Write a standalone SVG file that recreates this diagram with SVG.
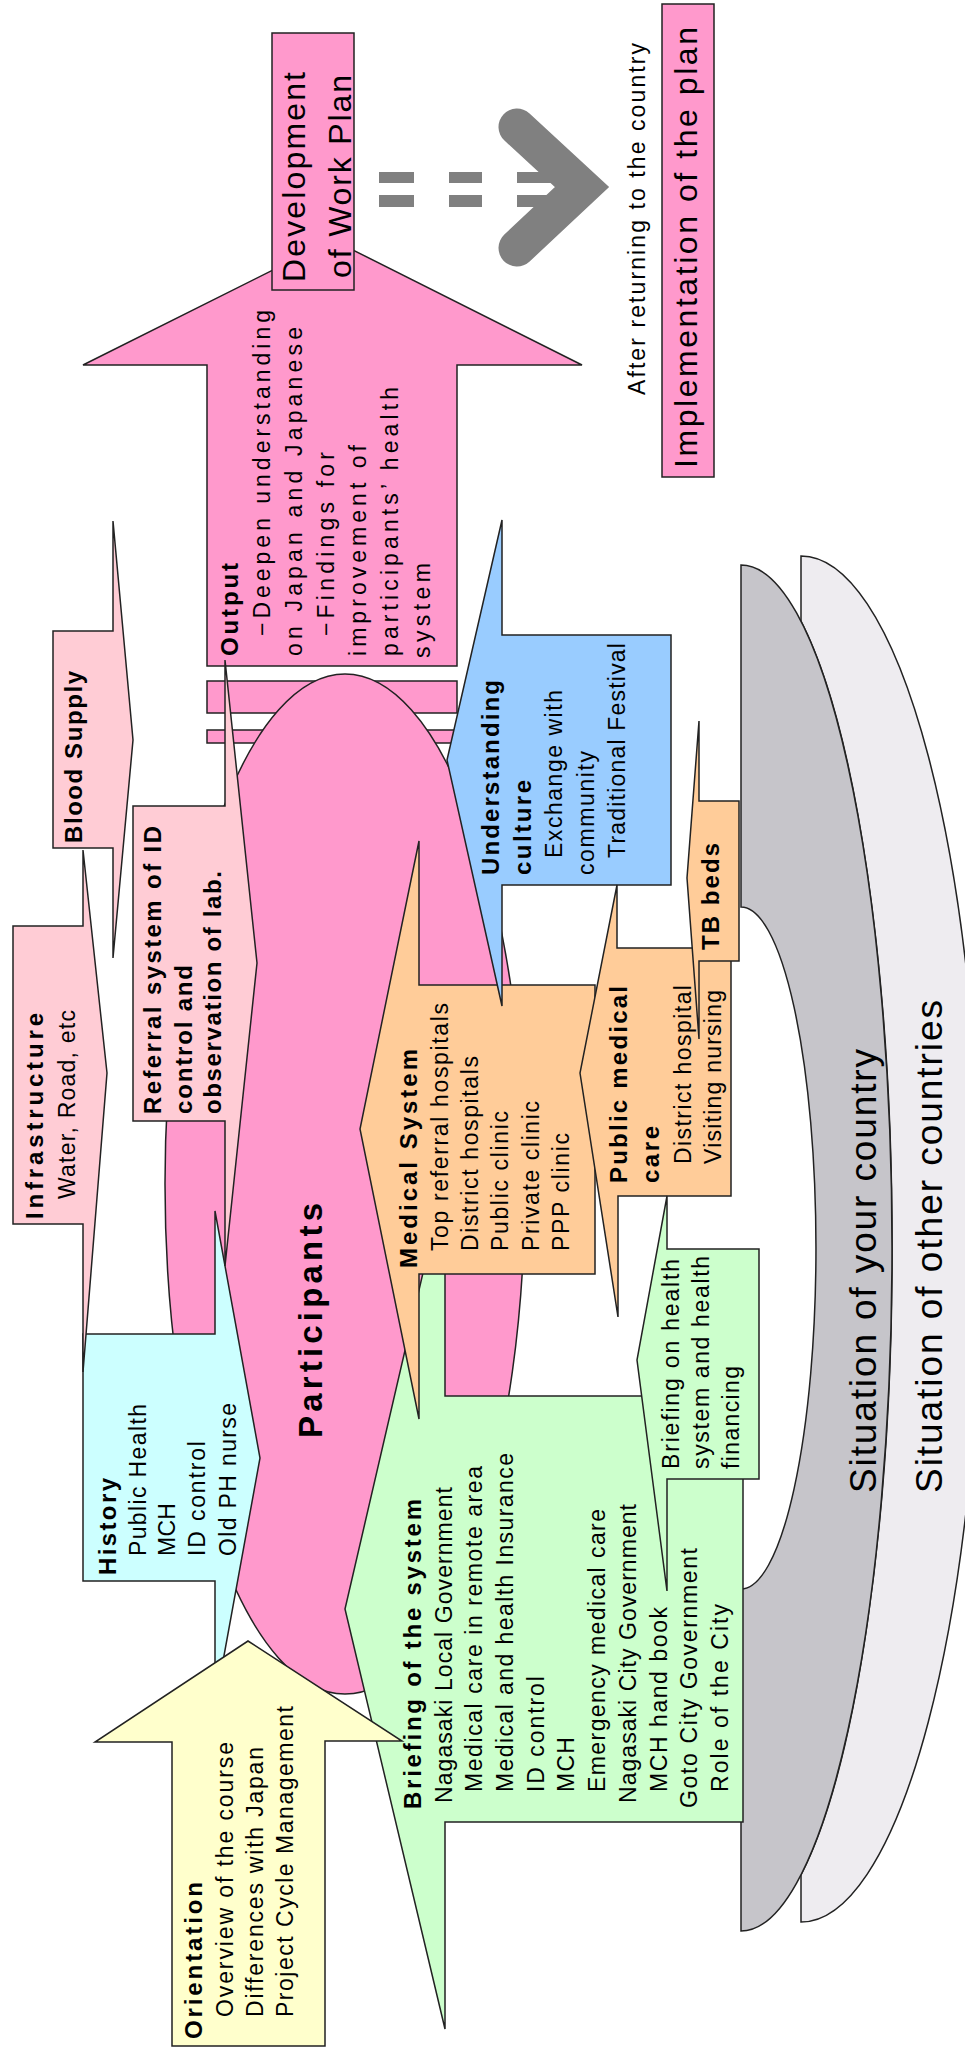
<svg xmlns="http://www.w3.org/2000/svg" width="965" height="2051" viewBox="0 0 965 2051">
<style>
.s{stroke:#222;stroke-width:1.5;stroke-linejoin:miter}
.pk{fill:#ff99cc}.pp{fill:#ffccd5}.cy{fill:#ccffff}.or{fill:#ffcc99}.bl{fill:#99ccff}.gr{fill:#ccffcc}.yl{fill:#ffffcc}
.t{font-family:"Liberation Sans",Arial,sans-serif;font-size:23px;fill:#000}
.b{font-weight:bold;font-size:24px}
.big{font-size:32px}
.sit{font-size:37px}
.part{font-weight:bold;font-size:33px}
.out{font-weight:bold;font-size:24px}
</style>
<rect width="965" height="2051" fill="#fff"/>

<g id="other-countries">
<path class="s" fill="#eeecf0" stroke-width="1.2" d="M801,556 A180,683 0 0 1 801,1922 L801,1875 A151,683 0 0 0 801,621 Z"/>
<text class="t sit" transform="translate(942,1493) rotate(-90)" textLength="493" lengthAdjust="spacing">Situation of other countries</text>
</g>
<g id="your-country">
<path class="s" fill="#c6c5ca" stroke-width="1.2" d="M741,565 A151,683 0 0 1 741,1931 L741,1589 A75,341 0 0 0 741,907 Z"/>
<text class="t sit" transform="translate(876,1493) rotate(-90)" textLength="444" lengthAdjust="spacing">Situation of your country</text>
</g>

<g id="output">
<rect class="s pk" x="207" y="681" width="250" height="32"/>
<rect class="s pk" x="207" y="730" width="250" height="13"/>
<polygon class="s pk" points="207,666 207,365 83,365 333,240 582,365 457,365 457,666"/>
<text class="t out" transform="translate(238,656) rotate(-90)" textLength="93" lengthAdjust="spacing">Output</text>
<text class="t" transform="translate(270,636) rotate(-90)" textLength="326" lengthAdjust="spacing">−Deepen understanding</text>
<text class="t" transform="translate(302,656) rotate(-90)" textLength="329" lengthAdjust="spacing">on Japan and Japanese</text>
<text class="t" transform="translate(334,636) rotate(-90)" textLength="184" lengthAdjust="spacing">−Findings for</text>
<text class="t" transform="translate(366,656) rotate(-90)" textLength="211" lengthAdjust="spacing">improvement of</text>
<text class="t" transform="translate(398,656) rotate(-90)" textLength="269" lengthAdjust="spacing">participants’ health</text>
<text class="t" transform="translate(430,658) rotate(-90)" textLength="95" lengthAdjust="spacing">system</text>
</g>

<g id="work-plan">
<rect class="s pk" x="272" y="33" width="82" height="257"/>
<text class="t big" transform="translate(305,282) rotate(-90)" textLength="210" lengthAdjust="spacing">Development</text>
<text class="t big" transform="translate(351,278) rotate(-90)" textLength="203" lengthAdjust="spacing">of Work Plan</text>
</g>

<g id="connectors">
<g fill="#808080">
<rect x="379" y="172" width="35" height="11"/>
<rect x="379" y="195" width="35" height="12"/>
<rect x="449" y="172" width="33" height="11"/>
<rect x="449" y="195" width="33" height="12"/>
<rect x="517" y="172" width="40" height="11"/>
<rect x="517" y="195" width="40" height="12"/>
</g>
<polyline points="517,127 582,187 517,248" fill="none" stroke="#808080" stroke-width="37" stroke-linecap="round" stroke-linejoin="miter"/>
</g>

<g id="after-returning">
<text class="t" transform="translate(645,395) rotate(-90)" textLength="352" lengthAdjust="spacing">After returning to the country</text>
</g>
<g id="implementation">
<rect class="s pk" x="662" y="4" width="52" height="473"/>
<text class="t big" transform="translate(697,468) rotate(-90)" textLength="441" lengthAdjust="spacing">Implementation of the plan</text>
</g>

<g id="participants">
<ellipse class="s pk" cx="345" cy="1184" rx="180" ry="510"/>
<text class="t part" transform="translate(322,1438) rotate(-90)" textLength="235" lengthAdjust="spacing">Participants</text>
</g>

<g id="blood-supply">
<polygon class="s pp" points="53,631 113,631 113,521 133,740 113,958 113,848 53,848"/>
<text class="t b" transform="translate(82,843) rotate(-90)" textLength="172" lengthAdjust="spacing">Blood Supply</text>
</g>

<g id="history">
<polygon class="s cy" points="83,1334 215,1334 215,1211 260,1458 215,1705 215,1581 83,1581"/>
<text class="t b" transform="translate(116,1575) rotate(-90)" textLength="97" lengthAdjust="spacing">History</text>
<text class="t" transform="translate(146,1556) rotate(-90)" textLength="152" lengthAdjust="spacing">Public Health</text>
<text class="t" transform="translate(175,1556) rotate(-90)" textLength="53" lengthAdjust="spacing">MCH</text>
<text class="t" transform="translate(205,1556) rotate(-90)" textLength="115" lengthAdjust="spacing">ID control</text>
<text class="t" transform="translate(236,1556) rotate(-90)" textLength="153" lengthAdjust="spacing">Old PH nurse</text>
</g>

<g id="infrastructure">
<polygon class="s pp" points="13,926 83,926 83,850 107,1073 83,1372 83,1224 13,1224"/>
<text class="t b" transform="translate(43,1219) rotate(-90)" textLength="206" lengthAdjust="spacing">Infrastructure</text>
<text class="t" transform="translate(75,1199) rotate(-90)" textLength="189" lengthAdjust="spacing">Water, Road, etc</text>
</g>

<g id="referral">
<polygon class="s pp" points="133,806 225,806 225,660 257,963 225,1266 225,1121 133,1121"/>
<text class="t b" transform="translate(161,1114) rotate(-90)" textLength="288" lengthAdjust="spacing">Referral system of ID</text>
<text class="t b" transform="translate(192,1114) rotate(-90)" textLength="149" lengthAdjust="spacing">control and</text>
<text class="t b" transform="translate(221,1114) rotate(-90)" textLength="243" lengthAdjust="spacing">observation of lab.</text>
</g>

<g id="briefing-system">
<polygon class="s gr" points="743,1396 445,1396 445,1178 345,1609 445,2029 445,1822 743,1822"/>
<text class="t b" transform="translate(421,1809) rotate(-90)" textLength="310" lengthAdjust="spacing">Briefing of the system</text>
<text class="t" transform="translate(452,1803) rotate(-90)" textLength="316" lengthAdjust="spacing">Nagasaki Local Government</text>
<text class="t" transform="translate(482,1792) rotate(-90)" textLength="326" lengthAdjust="spacing">Medical care in remote area</text>
<text class="t" transform="translate(513,1792) rotate(-90)" textLength="339" lengthAdjust="spacing">Medical and health Insurance</text>
<text class="t" transform="translate(544,1792) rotate(-90)" textLength="116" lengthAdjust="spacing">ID control</text>
<text class="t" transform="translate(574,1792) rotate(-90)" textLength="55" lengthAdjust="spacing">MCH</text>
<text class="t" transform="translate(605,1792) rotate(-90)" textLength="283" lengthAdjust="spacing">Emergency medical care</text>
<text class="t" transform="translate(636,1803) rotate(-90)" textLength="299" lengthAdjust="spacing">Nagasaki City Government</text>
<text class="t" transform="translate(667,1792) rotate(-90)" textLength="185" lengthAdjust="spacing">MCH hand book</text>
<text class="t" transform="translate(697,1808) rotate(-90)" textLength="260" lengthAdjust="spacing">Goto City Government</text>
<text class="t" transform="translate(728,1792) rotate(-90)" textLength="188" lengthAdjust="spacing">Role of the City</text>
</g>

<g id="orientation">
<polygon class="s yl" points="172,2046 172,1742 95,1742 248,1641 402,1741 325,1741 325,2046"/>
<text class="t b" transform="translate(202,2039) rotate(-90)" textLength="157" lengthAdjust="spacing">Orientation</text>
<text class="t" transform="translate(233,2017) rotate(-90)" textLength="275" lengthAdjust="spacing">Overview of the course</text>
<text class="t" transform="translate(263,2017) rotate(-90)" textLength="270" lengthAdjust="spacing">Differences with Japan</text>
<text class="t" transform="translate(293,2017) rotate(-90)" textLength="311" lengthAdjust="spacing">Project Cycle Management</text>
</g>

<g id="medical-system">
<polygon class="s or" points="595,985 419,985 419,841 360,1129 419,1419 419,1274 595,1274"/>
<text class="t b" transform="translate(417,1268) rotate(-90)" textLength="219" lengthAdjust="spacing">Medical System</text>
<text class="t" transform="translate(448,1251) rotate(-90)" textLength="248" lengthAdjust="spacing">Top referral hospitals</text>
<text class="t" transform="translate(478,1251) rotate(-90)" textLength="195" lengthAdjust="spacing">District hospitals</text>
<text class="t" transform="translate(508,1251) rotate(-90)" textLength="140" lengthAdjust="spacing">Public clinic</text>
<text class="t" transform="translate(539,1251) rotate(-90)" textLength="150" lengthAdjust="spacing">Private clinic</text>
<text class="t" transform="translate(569,1251) rotate(-90)" textLength="118" lengthAdjust="spacing">PPP clinic</text>
</g>

<g id="understanding-culture">
<polygon class="s bl" points="671,635 502,635 502,520 447,760 502,1006 502,885 671,885"/>
<text class="t b" transform="translate(499,875) rotate(-90)" textLength="195" lengthAdjust="spacing">Understanding</text>
<text class="t b" transform="translate(531,875) rotate(-90)" textLength="95" lengthAdjust="spacing">culture</text>
<text class="t" transform="translate(562,858) rotate(-90)" textLength="168" lengthAdjust="spacing">Exchange with</text>
<text class="t" transform="translate(594,875) rotate(-90)" textLength="124" lengthAdjust="spacing">community</text>
<text class="t" transform="translate(625,858) rotate(-90)" textLength="215" lengthAdjust="spacing">Traditional Festival</text>
</g>

<g id="public-medical-care">
<polygon class="s or" points="731,948 617,948 617,885 580,1073 618,1317 618,1196 731,1196"/>
<text class="t b" transform="translate(627,1183) rotate(-90)" textLength="197" lengthAdjust="spacing">Public medical</text>
<text class="t b" transform="translate(659,1183) rotate(-90)" textLength="57" lengthAdjust="spacing">care</text>
<text class="t" transform="translate(691,1164) rotate(-90)" textLength="179" lengthAdjust="spacing">District hospital</text>
<text class="t" transform="translate(721,1164) rotate(-90)" textLength="174" lengthAdjust="spacing">Visiting nursing</text>
</g>

<g id="tb-beds">
<polygon class="s or" points="739,801 699,801 699,721 687,878 699,1039 699,961 739,961"/>
<text class="t b" transform="translate(719,950) rotate(-90)" textLength="107" lengthAdjust="spacing">TB beds</text>
</g>

<g id="briefing-health">
<polygon class="s gr" points="759,1249 667,1249 667,1196 637,1360 667,1591 667,1479 759,1479"/>
<text class="t" transform="translate(679,1469) rotate(-90)" textLength="210" lengthAdjust="spacing">Briefing on health</text>
<text class="t" transform="translate(709,1469) rotate(-90)" textLength="213" lengthAdjust="spacing">system and health</text>
<text class="t" transform="translate(739,1469) rotate(-90)" textLength="103" lengthAdjust="spacing">financing</text>
</g>
</svg>
